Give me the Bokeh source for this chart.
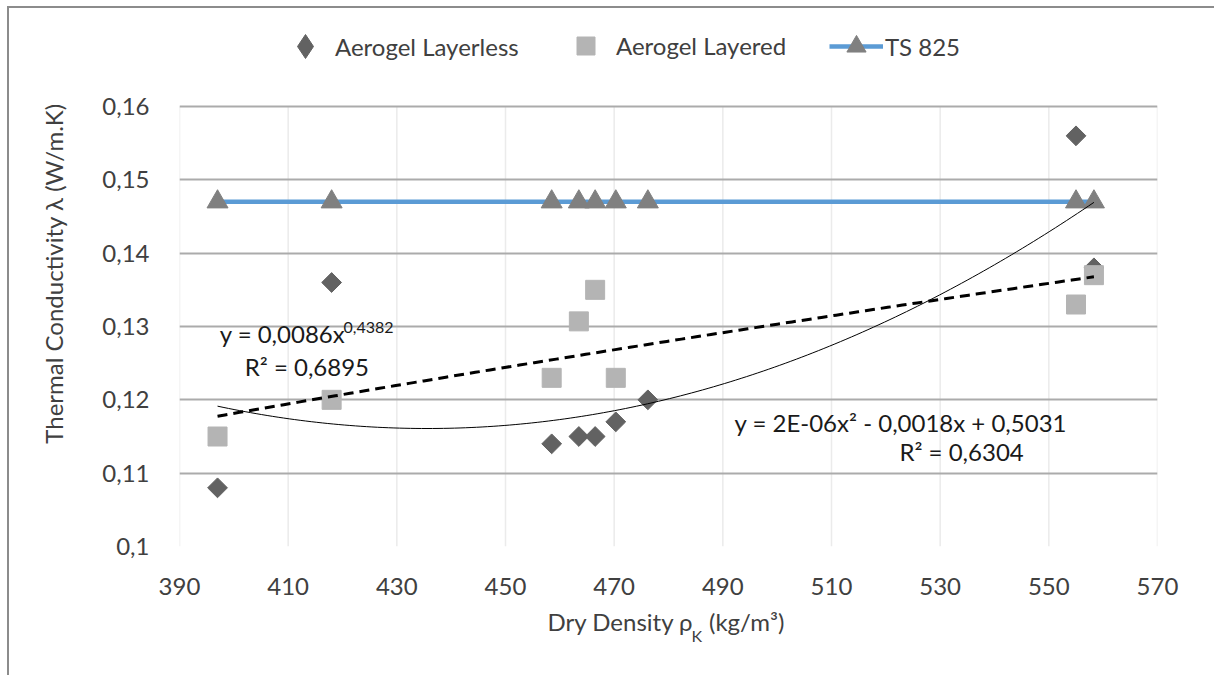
import numpy as np
from bokeh.plotting import figure
from bokeh.models import (FixedTicker, Label, Legend, LegendItem, Range1d,
                          InlineStyleSheet, LinearAxis)
from bokeh.embed import file_html
from bokeh.resources import INLINE

# ---- data ----
density = [397, 418, 458.5, 463.5, 466.5, 470.3, 476.2, 555, 558.3]
layerless = [0.108, 0.136, 0.114, 0.115, 0.115, 0.117, 0.120, 0.156, 0.138]
layered_density = [397, 418, 458.5, 463.5, 466.5, 470.3, 555, 558.3]
layered = [0.115, 0.120, 0.123, 0.1307, 0.135, 0.123, 0.133, 0.137]
ts825 = [0.147, 0.147, 0.147, 0.147, 0.147, 0.147, 0.147, 0.147, 0.147]

x_ticks = [390, 410, 430, 450, 470, 490, 510, 530, 550, 570]
y_ticks = [0.10, 0.11, 0.12, 0.13, 0.14, 0.15, 0.16]
y_tick_labels = ["0,1", "0,11", "0,12", "0,13", "0,14", "0,15", "0,16"]

FONT = "Lato"
FS = "24px"
TXT = "#404040"

# ---- trend lines fitted to the data (as Excel does) ----
b_pow, ln_a = np.polyfit(np.log(layered_density), np.log(layered), 1)
xp = np.linspace(min(layered_density), max(layered_density), 120)
yp = np.exp(ln_a) * xp ** b_pow
c2 = np.polyfit(density, layerless, 2)
xq = np.linspace(min(density), max(density), 160)
yq = np.polyval(c2, xq)

# plot area: 0,10..0,16 occupies the lower 440 px of a 546 px frame,
# the space above holds the legend (inside the frame, so nothing is clipped)
FRAME_H, PLOT_H = 546, 440
y_top = y_ticks[0] + (y_ticks[-1] - y_ticks[0]) * FRAME_H / PLOT_H

p = figure(frame_width=978, frame_height=FRAME_H,
           min_border_left=179, min_border_right=57,
           min_border_top=0, min_border_bottom=129,
           x_range=Range1d(x_ticks[0], x_ticks[-1]),
           y_range=Range1d(y_ticks[0], y_top),
           output_backend="svg", toolbar_location=None)
p.outline_line_color = None
p.background_fill_color = "white"
p.border_fill_color = "white"


def style_axis(ax, size=FS):
    ax.axis_line_color = None
    ax.major_tick_line_color = None
    ax.minor_tick_line_color = None
    ax.major_label_text_font = FONT
    ax.major_label_text_font_size = size
    ax.major_label_text_color = TXT
    ax.axis_label_text_font = FONT
    ax.axis_label_text_font_size = FS
    ax.axis_label_text_font_style = "normal"
    ax.axis_label_text_color = TXT


# axes
p.xaxis.ticker = FixedTicker(ticks=x_ticks)
p.yaxis.ticker = FixedTicker(ticks=y_ticks)
p.yaxis.bounds = (y_ticks[0], y_ticks[-1])
p.yaxis.major_label_overrides = {t: l for t, l in zip(y_ticks, y_tick_labels)}
style_axis(p.xaxis[0])
style_axis(p.yaxis[0])
p.yaxis.major_label_standoff = 24
p.xaxis.major_label_standoff = 25
p.yaxis.axis_label = "Thermal Conductivity λ (W/m.K)"
p.yaxis.axis_label_standoff = 31

# x-axis title "Dry Density ρK (kg/m³)" with subscript K, written as the
# labels of two extra label-only axes stacked under the tick axis
title_pos = [471.2, 494.4]
title_txt = ["Dry Density ρ", "(kg/m³)"]
sub_pos = [485.2]
sub_txt = ["K"]
ax_title = LinearAxis(ticker=FixedTicker(ticks=title_pos),
                      major_label_overrides=dict(zip(title_pos, title_txt)),
                      major_label_standoff=3)
style_axis(ax_title)
p.add_layout(ax_title, "below")
ax_sub = LinearAxis(ticker=FixedTicker(ticks=sub_pos),
                    major_label_overrides=dict(zip(sub_pos, sub_txt)),
                    major_label_standoff=-19)
style_axis(ax_sub, "16px")
p.add_layout(ax_sub, "below")

# grid: horizontal from the axis ticker, vertical only across the plot area
p.ygrid.ticker = FixedTicker(ticks=y_ticks)
p.ygrid.grid_line_color = "#ABABAB"
p.ygrid.grid_line_width = 2
p.xgrid.visible = False
n = len(x_ticks)
p.segment(x0=x_ticks, x1=x_ticks, y0=[y_ticks[0]] * n, y1=[y_ticks[-1]] * n,
          line_color="#EBEBEB", line_width=1.5, level="image")

# series
r_dia = p.scatter(density, layerless, marker="square", angle=np.pi / 4, size=14,
                  fill_color="#626262", line_color="#626262")
r_sq = p.scatter(layered_density, layered, marker="square", size=19,
                 fill_color="#B4B4B4", line_color="#B4B4B4")
r_line = p.line(density, ts825, line_color="#5B9BD5", line_width=4.5)
r_tri = p.scatter(density, ts825, marker="triangle", size=21,
                  fill_color="#808080", line_color="#808080")
p.line(xp, yp, line_color="black", line_width=3, line_dash="10 6")
p.line(xq, yq, line_color="black", line_width=1)
# legend key for the diamonds (the legend does not rotate markers);
# one undrawable point so the legend has a glyph to show
r_dia_key = p.scatter([np.nan], [np.nan], marker="diamond", size=20,
                      fill_color="#626262", line_color="#626262")


# trend-line equations
def lab(x, y, text, size=FS):
    p.add_layout(Label(x=x, y=y, text=text, text_font=FONT, text_font_size=size,
                       text_color="#1a1a1a", text_align="left", text_baseline="middle"))


lab(397.4, 0.1291, "y = 0,0086x")
lab(420.2, 0.12988, "0,4382", "16px")
lab(402.0, 0.1246, "R² = 0,6895")
lab(492.15, 0.1169, "y = 2E-06x² - 0,0018x + 0,5031")
lab(522.5, 0.11296, "R² = 0,6304")

# legend along the top (three single-item legends)
LEG_Y = 46


def top_legend(item, x, gw, gh, standoff):
    lg = Legend(items=[item], location=(x, FRAME_H - LEG_Y - gh // 2),
                orientation="horizontal", glyph_width=gw, glyph_height=gh,
                label_standoff=standoff, padding=0, margin=0,
                border_line_color=None, background_fill_alpha=0,
                label_text_font=FONT, label_text_font_size=FS,
                label_text_color=TXT)
    p.add_layout(lg, "center")


top_legend(LegendItem(label="Aerogel Layerless", renderers=[r_dia_key]), 96, 60, 60, -2)
top_legend(LegendItem(label="Aerogel Layered", renderers=[r_sq]), 384, 45, 45, 8)
top_legend(LegendItem(label="TS 825", renderers=[r_line, r_tri]), 650, 54, 48, 2)

# outer chart border (its right and bottom sides lie outside the picture)
p.stylesheets = [InlineStyleSheet(css=""":host { position: relative; }
:host::after { content: ""; position: absolute; left: 7px; top: 6px; right: 0; bottom: 0;
  border-left: 2px solid #8C8C8C; border-top: 2px solid #8C8C8C;
  pointer-events: none; z-index: 10; }""")]

open("out.html", "w").write(file_html(p, INLINE))
